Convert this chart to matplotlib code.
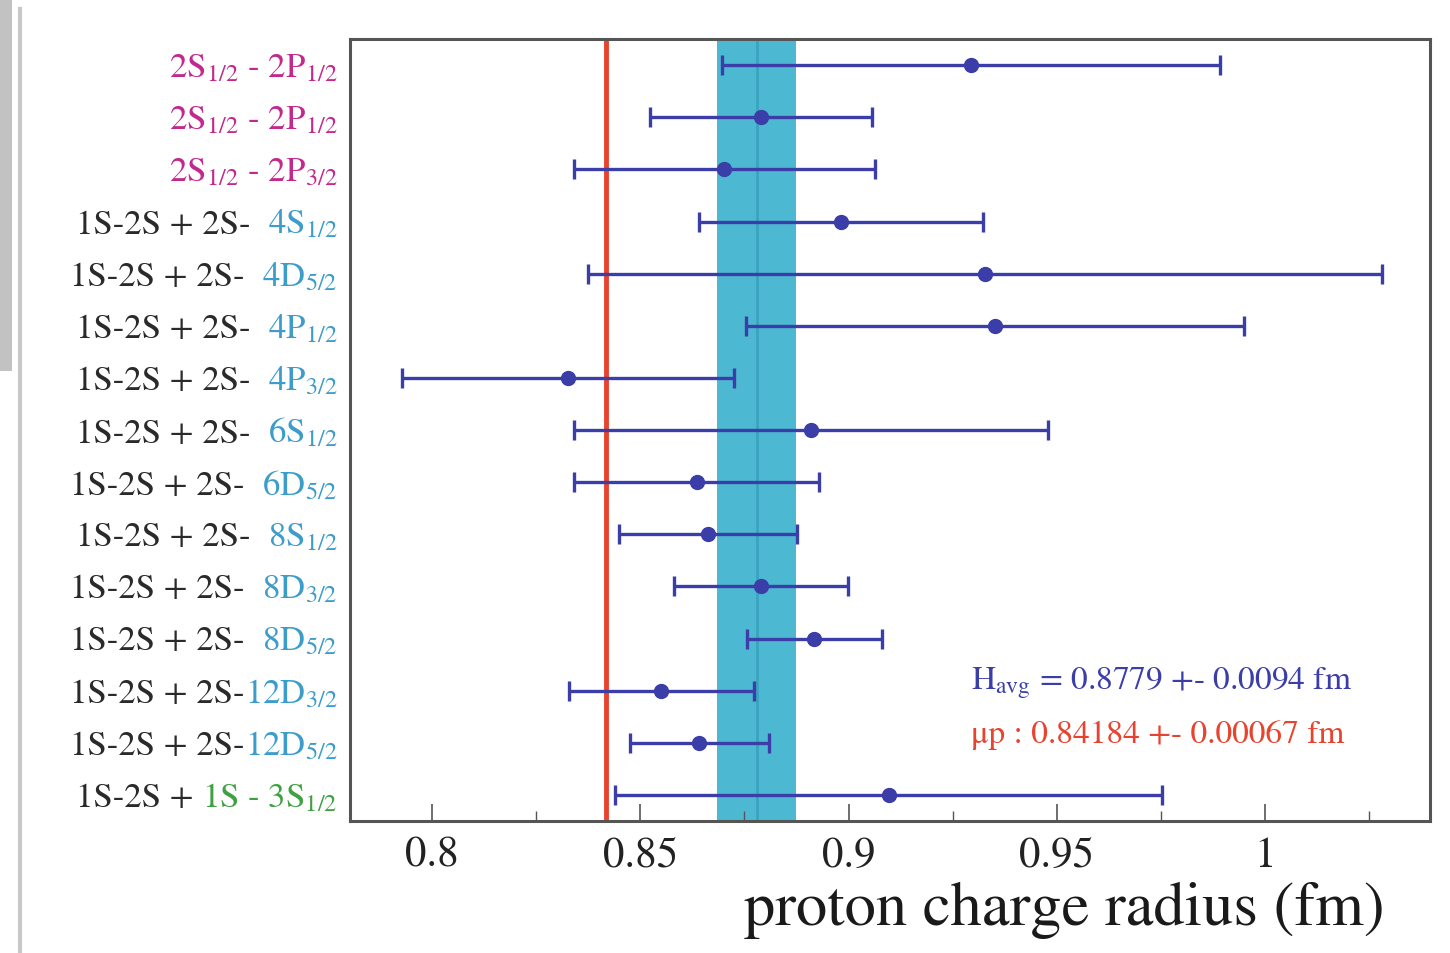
"""
proton radius comparison: H spectroscopy vs muonic hydrogen
"""

import matplotlib
matplotlib.use('Agg')
import matplotlib.pyplot as plt
from matplotlib import rcParams
from matplotlib.offsetbox import TextArea, HPacker, AnnotationBbox
from matplotlib.ticker import MultipleLocator

rcParams.update({
    'font.family': 'STIXGeneral',
    'mathtext.fontset': 'stix',
    'xtick.direction': 'in',
})

# ── Data ──────────────────────────────────────────────────────────────────────
label_prefix = ['', '', '',
                '1S-2S + 2S-  ', '1S-2S + 2S-  ', '1S-2S + 2S-  ',
                '1S-2S + 2S-  ', '1S-2S + 2S-  ', '1S-2S + 2S-  ',
                '1S-2S + 2S-  ', '1S-2S + 2S-  ', '1S-2S + 2S-  ',
                '1S-2S + 2S-', '1S-2S + 2S-', '1S-2S + ']
label_line = [r'2S$_{1/2}$ - 2P$_{1/2}$', r'2S$_{1/2}$ - 2P$_{1/2}$',
              r'2S$_{1/2}$ - 2P$_{3/2}$',
              r'4S$_{1/2}$', r'4D$_{5/2}$', r'4P$_{1/2}$', r'4P$_{3/2}$',
              r'6S$_{1/2}$', r'6D$_{5/2}$', r'8S$_{1/2}$', r'8D$_{3/2}$',
              r'8D$_{5/2}$', r'12D$_{3/2}$', r'12D$_{5/2}$',
              r'1S - 3S$_{1/2}$']
label_kind = ['2s2p', '2s2p', '2s2p'] + ['2s'] * 11 + ['1s3s']

radius = [0.9295, 0.8790, 0.8702, 0.8981, 0.9328, 0.9351, 0.8327, 0.8909,
          0.8635, 0.8663, 0.8790, 0.8918, 0.8550, 0.8642, 0.9096]
radius_err = [0.0598, 0.0267, 0.0361, 0.0341, 0.0953, 0.0598, 0.0399, 0.0569,
              0.0294, 0.0213, 0.0208, 0.0162, 0.0222, 0.0167, 0.0656]

h_avg, h_avg_err = 0.8779, 0.0094
mu_p, mu_p_err = 0.84184, 0.00067

# ── Colors ────────────────────────────────────────────────────────────────────
col_pts   = '#3B3DA8'
col_mu    = '#E8432E'
col_band  = '#4DB8D2'
col_bandc = '#3AA3C0'
kind_col  = {'2s2p': '#C2288E', '2s': '#3C9CCB', '1s3s': '#3FA142'}
col_black = '#2A2A2A'

# ── Figure ────────────────────────────────────────────────────────────────────
fig = plt.figure(figsize=(14.5, 9.54), dpi=100, facecolor='white')
ax = fig.add_axes([0.2414, 0.1384, 0.7448, 0.8196])

n = len(radius)
ypos = list(range(1, n + 1))

ax.axvspan(h_avg - h_avg_err, h_avg + h_avg_err, color=col_band, zorder=1,
           lw=0)
ax.axvline(h_avg, color=col_bandc, lw=2.0, zorder=1.5)
ax.axvline(mu_p, color=col_mu, lw=3.5, zorder=2)

ax.errorbar(radius, ypos, xerr=radius_err, fmt='o', color=col_pts,
            ms=10, lw=2.4, capsize=7, capthick=2.4, zorder=3)

ax.set_xlim(0.7803, 1.0396)
ax.set_ylim(n + 0.5, 0.5)
ax.set_yticks([])
ax.xaxis.set_minor_locator(MultipleLocator(0.025))
ax.set_xticks([0.8, 0.85, 0.9, 0.95, 1.0])
ax.set_xticklabels(['0.8', '0.85', '0.9', '0.95', '1'])
ax.tick_params(axis='x', which='major', length=12, width=1.2, pad=11,
               labelsize=31, colors='#555555', labelcolor='#222222')
ax.tick_params(axis='x', which='minor', length=7, width=1.0,
               colors='#555555')
for spine in ax.spines.values():
    spine.set_linewidth(2.2)
    spine.set_color('#555555')

# row labels: black prefix + coloured transition
for y, pre, line, kind in zip(ypos, label_prefix, label_line, label_kind):
    parts = []
    if pre:
        parts.append(TextArea(pre, textprops=dict(color=col_black,
                                                  fontsize=25)))
    parts.append(TextArea(line, textprops=dict(color=kind_col[kind],
                                               fontsize=25)))
    box = HPacker(children=parts, align='baseline', pad=0, sep=0)
    ab = AnnotationBbox(box, (0, y), xycoords=('axes fraction', 'data'),
                        xybox=(-9, -2), boxcoords='offset points',
                        box_alignment=(1, 0.5), frameon=False)
    ax.add_artist(ab)

ax.text(0.575, 0.177, r'H$_{\rm avg}$ = %.4f +- %.4f fm' % (h_avg, h_avg_err),
        transform=ax.transAxes, fontsize=24, color=col_pts, va='center')
ax.text(0.575, 0.111, 'μp : %.5f +- %.5f fm' % (mu_p, mu_p_err),
        transform=ax.transAxes, fontsize=24, color=col_mu, va='center')

ax.text(0.958, -0.113, 'proton charge radius (fm)', transform=ax.transAxes,
        fontsize=45, ha='right', va='center', color='#1A1A1A')

# edge of the slide photo
fig.add_artist(plt.Line2D([20 / 1450, 20 / 1450], [0, 0.99],
                          transform=fig.transFigure, color='#c8c8c8', lw=3))
fig.add_artist(plt.Rectangle((0, 0.61), 12 / 1450, 0.39,
                             transform=fig.transFigure, color='#9a9a9a',
                             alpha=0.6, lw=0))

plt.savefig('out.png', dpi=100, facecolor='white')
